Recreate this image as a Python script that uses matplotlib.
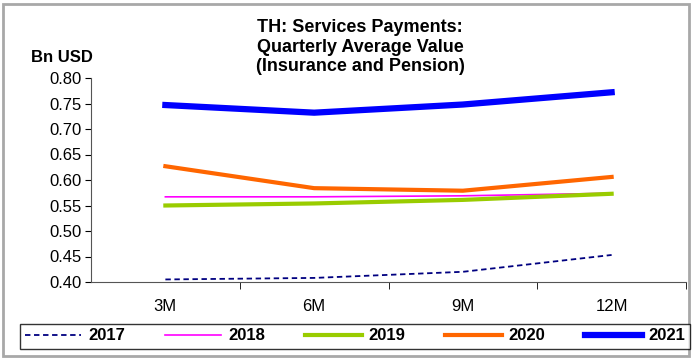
import matplotlib.pyplot as plt
from matplotlib.patches import Rectangle

plt.rcParams['font.family'] = ['Liberation Sans', 'DejaVu Sans']

periods = ['3M', '6M', '9M', '12M']
v2017 = [0.405, 0.408, 0.420, 0.453]
v2018 = [0.567, 0.567, 0.569, 0.574]
v2019 = [0.550, 0.554, 0.561, 0.573]
v2020 = [0.627, 0.584, 0.579, 0.606]
v2021 = [0.747, 0.732, 0.748, 0.772]

fig = plt.figure(figsize=(6.93, 3.59), dpi=100)
ax = fig.add_axes([91/693, 1-282/359, (686-91)/693, (282-78)/359])

x = range(len(periods))
ax.plot(x, v2017, color='#000080', lw=1.3, ls=(0, (3, 2)), label='2017')
ax.plot(x, v2018, color='#FF00FF', lw=1.2, label='2018')
ax.plot(x, v2019, color='#99CC00', lw=3, label='2019')
ax.plot(x, v2020, color='#FF6600', lw=3, label='2020')
ax.plot(x, v2021, color='#0000FF', lw=4.5, label='2021')

ax.set_xlim(-0.5, 3.5)
ax.set_ylim(0.40, 0.80)
ax.set_yticks([0.40 + 0.05*i for i in range(9)])
ax.set_yticklabels(['%.2f' % (0.40 + 0.05*i) for i in range(9)], fontsize=12)
ax.set_xticks(list(x))
ax.set_xticklabels(periods, fontsize=12)
ax.set_xticks([0.5, 1.5, 2.5, 3.5], minor=True)
ax.tick_params(axis='x', which='major', length=0, pad=12)
ax.tick_params(axis='x', which='minor', length=5, color='black')
ax.tick_params(axis='y', length=4, pad=3)
ax.spines['top'].set_visible(False)
ax.spines['right'].set_visible(False)
ax.spines['left'].set_color('#555555')
ax.spines['bottom'].set_color('#555555')

fig.text(360/693, 1-47/359, 'TH: Services Payments:\nQuarterly Average Value\n(Insurance and Pension)',
         ha='center', va='center', fontsize=13, fontweight='bold', linespacing=1.2)
fig.text(62/693, 1-58/359, 'Bn USD', ha='center', va='center', fontsize=12, fontweight='bold')

leg = fig.legend(loc='center', bbox_to_anchor=(355/693, 1-336/359), ncol=5,
                 prop={'weight': 'bold', 'size': 12}, handlelength=3.4, columnspacing=2.4,
                 handletextpad=0.4, fancybox=False, edgecolor='black', borderpad=0.3)
leg.get_frame().set_linewidth(1.0)

fig.patches.append(Rectangle((3/693, 3/359), 686/693, 352/359, transform=fig.transFigure,
                             fill=False, edgecolor='#a8a8a8', lw=2))

fig.savefig('out.png', dpi=100)
